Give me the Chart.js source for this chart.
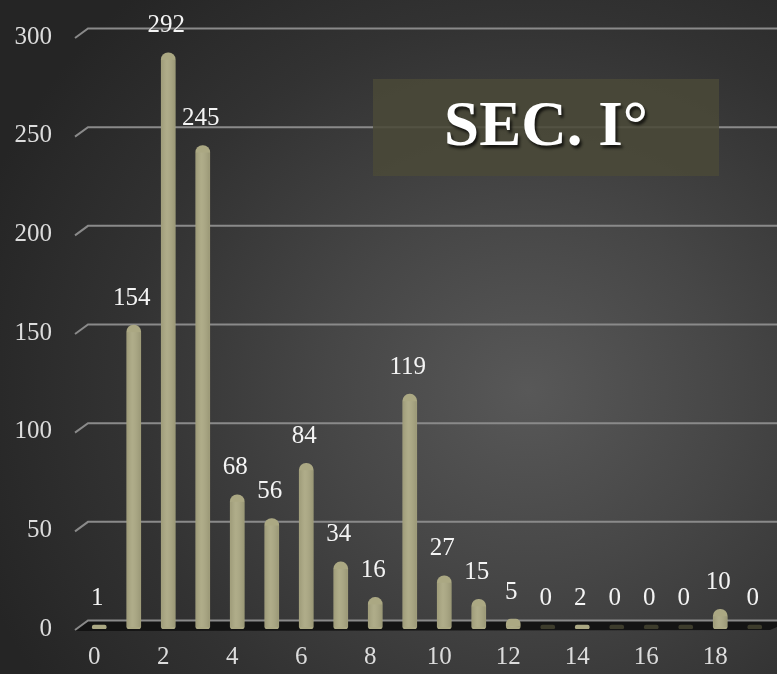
<!DOCTYPE html>
<html>
<head>
<meta charset="utf-8">
<script src="https://cdn.jsdelivr.net/npm/chart.js@4"></script>
<style>
  html, body { margin: 0; padding: 0; }
  body {
    width: 777px; height: 674px; overflow: hidden;
    background: radial-gradient(ellipse 75% 80% at 68% 58%, #585858 0%, #464646 35%, #323232 70%, #252525 100%);
  }
  #wrap { position: relative; width: 777px; height: 674px; }
</style>
</head>
<body>
<div id="wrap"><canvas id="c" width="777" height="674"></canvas></div>
<script>
// ---- data ----
const categories = ['0','1','2','3','4','5','6','7','8','9','10','11','12','13','14','15','16','17','18','19'];
const values = [1, 154, 292, 245, 68, 56, 84, 34, 16, 119, 27, 15, 5, 0, 2, 0, 0, 0, 10, 0];
const yTicks = [0, 50, 100, 150, 200, 250, 300];
const titleText = 'SEC. I°';

const FONT = "'Liberation Serif', 'DejaVu Serif', serif";
const BAR = '#aba883';
const BAR_ZERO = '#3d3c2c';

const gridPlugin = {
  id: 'perspectiveGrid',
  beforeDatasetsDraw(chart) {
    const { ctx, chartArea, scales: { y } } = chart;
    const W = chart.width;
    const xl = chartArea.left - 7, xb = chartArea.left + 6;
    ctx.save();
    // floor
    const p0 = y.getPixelForValue(0);
    ctx.fillStyle = '#141414';
    ctx.beginPath();
    ctx.moveTo(xl, p0 + 2);
    ctx.lineTo(xb, p0 - 8);
    ctx.lineTo(W, p0 - 8);
    ctx.lineTo(W, p0 - 2);
    ctx.lineTo(W - 7, p0 + 1);
    ctx.closePath();
    ctx.fill();
    // grid lines
    ctx.strokeStyle = '#8a8a8a';
    ctx.lineWidth = 2;
    yTicks.forEach(v => {
      const p = y.getPixelForValue(v);
      ctx.beginPath();
      ctx.moveTo(xl, p + 1);
      ctx.lineTo(xb, p - 8.5);
      ctx.lineTo(W, p - 8.5);
      ctx.stroke();
    });
    ctx.restore();
  },
  afterDatasetsDraw(chart) {
    const { ctx } = chart;
    const meta = chart.getDatasetMeta(0);
    ctx.save();
    // subtle cylinder shading
    meta.data.forEach((el, i) => {
      if (values[i] < 3) return;
      const w = el.width;
      const g = ctx.createLinearGradient(el.x - w / 2, 0, el.x + w / 2, 0);
      g.addColorStop(0, 'rgba(0,0,0,0.08)');
      g.addColorStop(0.4, 'rgba(255,255,255,0.05)');
      g.addColorStop(1, 'rgba(0,0,0,0.10)');
      ctx.fillStyle = g;
      ctx.fillRect(el.x - w / 2, el.y + 7, w, el.base - el.y - 9);
    });
    // value labels
    ctx.fillStyle = '#f4f4f4';
    ctx.font = '25px ' + FONT;
    ctx.textAlign = 'center';
    ctx.textBaseline = 'middle';
    meta.data.forEach((el, i) => {
      ctx.fillText(String(values[i]), el.x - 2, el.y - 27);
    });
    // title box
    ctx.fillStyle = 'rgba(74,73,56,0.86)';
    ctx.fillRect(373, 79, 346, 97);
    ctx.shadowColor = 'rgba(0,0,0,0.75)';
    ctx.shadowOffsetX = 2;
    ctx.shadowOffsetY = 3;
    ctx.shadowBlur = 3;
    ctx.fillStyle = '#ffffff';
    ctx.font = 'bold 63px ' + FONT;
    ctx.fillText(titleText, 546, 129);
    ctx.restore();
  }
};

new Chart(document.getElementById('c'), {
  type: 'bar',
  data: {
    labels: categories,
    datasets: [{
      data: values,
      backgroundColor: values.map(v => v === 0 ? BAR_ZERO : BAR),
      barThickness: 14,
      minBarLength: 4,
      borderSkipped: false,
      borderRadius: { topLeft: 7, topRight: 7, bottomLeft: 3, bottomRight: 3 }
    }]
  },
  options: {
    responsive: false,
    animation: false,
    events: [],
    layout: { padding: { top: 37, right: 5, left: 0, bottom: 0 } },
    plugins: { legend: { display: false }, tooltip: { enabled: false } },
    scales: {
      x: {
        grid: { display: false, drawTicks: false },
        border: { display: false },
        afterFit(s) { s.height = 45; s.paddingLeft = 0; s.paddingRight = 0; },
        ticks: {
          autoSkip: false, maxRotation: 0, padding: 13, labelOffset: -5,
          color: '#dcdcdc', font: { family: FONT, size: 25 },
          callback: (v, i) => (i % 2 === 0 ? categories[i] : '')
        }
      },
      y: {
        min: 0, max: 300,
        afterFit(s) { s.width = 82; s.paddingTop = 0; s.paddingBottom = 0; },
        afterBuildTicks(s) { s.ticks = yTicks.map(v => ({ value: v })); },
        grid: { display: false, drawTicks: false },
        border: { display: false },
        ticks: { padding: 30, color: '#dcdcdc', font: { family: FONT, size: 25 } }
      }
    }
  },
  plugins: [gridPlugin]
});
</script>
</body>
</html>
